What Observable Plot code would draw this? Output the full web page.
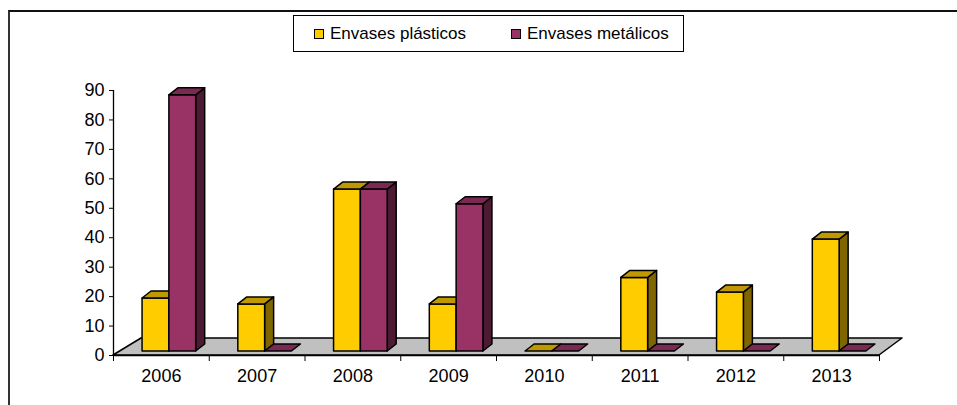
<!DOCTYPE html>
<html>
<head>
<meta charset="utf-8">
<script src="https://cdn.jsdelivr.net/npm/d3@7"></script>
<script src="https://cdn.jsdelivr.net/npm/@observablehq/plot@0.6"></script>
<style>
  body { margin: 0; background: #fff; font-family: "Liberation Sans", Arial, sans-serif; }
  #wrap { position: relative; width: 957px; height: 405px; overflow: hidden; background: #fff; }
  #chart { position: absolute; left: 0; top: 0; }
  #border { position: absolute; left: 8px; top: 10px; width: 1000px; height: 500px;
            border-top: 2px solid #111; border-left: 2px solid #333; pointer-events: none; }
  #legend { position: absolute; left: 293px; top: 15px; width: 389px; height: 35px;
            border: 1.5px solid #000; background: #fff; font-size: 17px; color: #000; }
  .item { position: absolute; top: 0; height: 35px; display: flex; align-items: center; white-space: nowrap; }
  .sw { width: 8px; height: 8px; border: 1.2px solid #000; margin-right: 6px; }
</style>
</head>
<body>
<div id="wrap">
  <div id="chart"></div>
  <div id="border"></div>
  <div id="legend"></div>
</div>
<script>
// ---- data ----
const years = ["2006", "2007", "2008", "2009", "2010", "2011", "2012", "2013"];
const series = ["Envases plásticos", "Envases metálicos"];
const plasticos = [18, 16, 55, 16, 0, 25, 20, 38];
const metalicos = [87, 0, 55, 50, 0, 0, 0, 0];
const yTicks = [0, 10, 20, 30, 40, 50, 60, 70, 80, 90];

// ---- styles ----
const faceColors = {
  "Envases plásticos": {front: "#FFCC00", top: "#C09900", side: "#806600"},
  "Envases metálicos": {front: "#993366", top: "#7A2952", side: "#4D1A33"}
};
const GAP = 0.22, BW = 0.28;        // bar layout inside a category (fractions)
const SHIFT = [8, -4];              // front face offset into the floor (px)
const DEPTH = [9, -7];              // bar depth (px)

const table = [];
years.forEach((year, i) => {
  table.push({year, i, slot: 0, series: series[0], value: plasticos[i]});
  table.push({year, i, slot: 1, series: series[1], value: metalicos[i]});
});

function poly(g, pts, fill) {
  g.append("path")
    .attr("d", "M" + pts.map(p => p.join(",")).join("L") + "Z")
    .attr("fill", fill)
    .attr("stroke", "#000")
    .attr("stroke-width", 1.5)
    .attr("stroke-linejoin", "round");
}

function floorMark(index, scales) {
  const {x, y} = scales;
  const g = d3.create("svg:g");
  const x0 = x(0), x1 = x(years.length), y0 = y(0);
  poly(g, [[x0, y0], [x1, y0], [x1 + 23, y0 - 17], [x0 + 28, y0 - 17]], "#C0C0C0");
  return g.node();
}

function render3d(index, scales, values) {
  const g = d3.create("svg:g");
  for (const i of index) {
    const c = faceColors[table[i].series];
    const xa = values.x1[i] + SHIFT[0], xb = values.x2[i] + SHIFT[0];
    const yb = values.y1[i] + SHIFT[1], yt = values.y2[i] + SHIFT[1];
    const [dx, dy] = DEPTH;
    if (yb - yt > 0.5) {
      poly(g, [[xb, yb], [xb + dx, yb + dy], [xb + dx, yt + dy], [xb, yt]], c.side);
      poly(g, [[xa, yt], [xb, yt], [xb, yb], [xa, yb]], c.front);
    }
    poly(g, [[xa, yt], [xb, yt], [xb + dx, yt + dy], [xa + dx, yt + dy]], c.top);
  }
  return g.node();
}

const chart = Plot.plot({
  width: 957,
  height: 405,
  marginLeft: 113,
  marginRight: 78,
  marginTop: 90,
  marginBottom: 50,
  style: {fontFamily: "'Liberation Sans', Arial, sans-serif", fontSize: "18px", color: "#000", background: "transparent"},
  x: {domain: [0, years.length]},
  y: {domain: [0, 90]},
  marks: [
    floorMark,
    Plot.ruleX([0], {stroke: "#000", strokeWidth: 1.3}),
    Plot.ruleY([0], {stroke: "#000", strokeWidth: 1.3}),
    Plot.rectY(table, {
      x1: d => d.i + GAP + d.slot * BW,
      x2: d => d.i + GAP + (d.slot + 1) * BW,
      y1: d => 0,
      y2: "value",
      render: render3d
    }),
    Plot.axisY(yTicks, {tickSize: 4, tickPadding: 5, fontSize: 18, label: null, stroke: "#000"}),
    Plot.axisX(d3.range(years.length + 1), {tickSize: 6, tickFormat: () => "", label: null, stroke: "#000"}),
    Plot.axisX(years.map((_, i) => i + 0.5), {
      tickSize: 0, tickPadding: 14, fontSize: 18, label: null,
      tickFormat: d => years[Math.floor(d)]
    })
  ]
});
document.getElementById("chart").appendChild(chart);

// legend
const legend = document.getElementById("legend");
const itemLeft = [20, 217];
series.forEach((s, k) => {
  const it = document.createElement("div");
  it.className = "item";
  it.style.left = itemLeft[k] + "px";
  const sw = document.createElement("span");
  sw.className = "sw";
  sw.style.background = faceColors[s].front;
  const tx = document.createElement("span");
  tx.textContent = s;
  it.appendChild(sw); it.appendChild(tx);
  legend.appendChild(it);
});
</script>
</body>
</html>
